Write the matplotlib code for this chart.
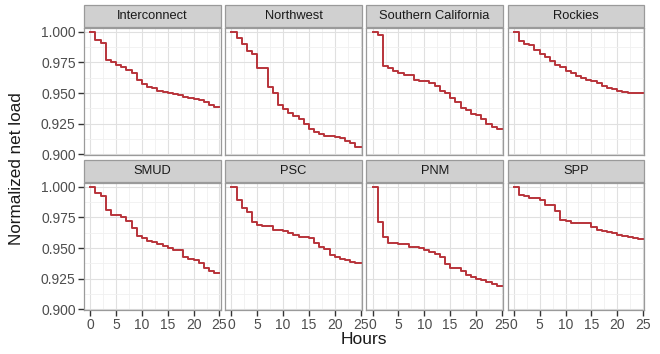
import numpy as np
import matplotlib
matplotlib.use("Agg")
import matplotlib.pyplot as plt
from matplotlib.patches import Rectangle

plt.rcParams['font.family'] = ['Liberation Sans', 'DejaVu Sans']

# hora de inicio de cada escalón (0..24), cada uno dura 1 hora
horas = list(range(25))

regiones = ['Interconnect', 'Northwest', 'Southern California', 'Rockies',
            'SMUD', 'PSC', 'PNM', 'SPP']

interconnect = [1.000, 0.993, 0.991, 0.977, 0.975, 0.973, 0.971, 0.969, 0.966, 0.961,
                0.957, 0.955, 0.954, 0.952, 0.951, 0.950, 0.949, 0.948, 0.947, 0.946,
                0.945, 0.944, 0.943, 0.940, 0.939]
northwest = [1.000, 0.995, 0.990, 0.984, 0.982, 0.970, 0.970, 0.955, 0.950, 0.940,
             0.937, 0.934, 0.931, 0.929, 0.925, 0.921, 0.918, 0.917, 0.915, 0.915,
             0.914, 0.913, 0.911, 0.909, 0.906]
southern_california = [1.000, 0.997, 0.972, 0.970, 0.968, 0.966, 0.965, 0.965, 0.961, 0.960,
                       0.960, 0.958, 0.956, 0.952, 0.950, 0.946, 0.943, 0.938, 0.936, 0.933,
                       0.932, 0.929, 0.925, 0.922, 0.921]
rockies = [1.000, 0.992, 0.990, 0.989, 0.985, 0.982, 0.979, 0.976, 0.973, 0.971,
           0.968, 0.966, 0.964, 0.962, 0.961, 0.960, 0.958, 0.956, 0.954, 0.953,
           0.952, 0.951, 0.950, 0.950, 0.950]
smud = [1.000, 0.995, 0.992, 0.981, 0.977, 0.977, 0.975, 0.972, 0.966, 0.960,
        0.958, 0.956, 0.955, 0.953, 0.952, 0.950, 0.948, 0.948, 0.943, 0.941,
        0.940, 0.938, 0.934, 0.931, 0.930]
psc = [1.000, 0.989, 0.983, 0.979, 0.971, 0.969, 0.968, 0.968, 0.965, 0.965,
       0.964, 0.962, 0.961, 0.959, 0.959, 0.958, 0.954, 0.951, 0.949, 0.944,
       0.943, 0.941, 0.940, 0.939, 0.938]
pnm = [1.000, 0.971, 0.959, 0.954, 0.954, 0.953, 0.953, 0.951, 0.951, 0.950,
       0.948, 0.947, 0.945, 0.943, 0.937, 0.934, 0.934, 0.931, 0.928, 0.926,
       0.925, 0.924, 0.922, 0.921, 0.919]
spp = [1.000, 0.993, 0.992, 0.991, 0.991, 0.989, 0.985, 0.985, 0.980, 0.973,
       0.972, 0.970, 0.970, 0.970, 0.970, 0.967, 0.965, 0.964, 0.963, 0.962,
       0.961, 0.960, 0.959, 0.958, 0.957]

series = [interconnect, northwest, southern_california, rockies, smud, psc, pnm, spp]

x_ticks = [0, 5, 10, 15, 20, 25]
y_ticks = [0.900, 0.925, 0.950, 0.975, 1.000]

W, H = 660, 354
fig = plt.figure(figsize=(6.6, 3.54), dpi=100)

# posiciones de los paneles en pixeles
izq, ancho, sep = 84, 136.5, 4.7
filas = [(28, 155), (183, 310)]  # (arriba, abajo) del área de datos
alto_tira = 22

color_linea = '#B8333A'
color_borde = '#9A9A9A'
color_txt = '#4D4D4D'

for i, (nombre, vals) in enumerate(zip(regiones, series)):
    fila, col = divmod(i, 4)
    top, bot = filas[fila]
    x0 = izq + col * (ancho + sep)
    ax = fig.add_axes([x0 / W, 1 - bot / H, ancho / W, (bot - top) / H])

    xs = horas + [horas[-1] + 1]
    ys = vals + [vals[-1]]
    ax.step(xs, ys, where='post', color=color_linea, lw=1.4)

    ax.set_xlim(-1.2, 25.2)
    ax.set_ylim(0.8995, 1.003)
    ax.set_xticks(x_ticks)
    ax.set_yticks(y_ticks)
    ax.set_xticks([2.5, 7.5, 12.5, 17.5, 22.5], minor=True)
    ax.set_yticks([0.9125, 0.9375, 0.9625, 0.9875], minor=True)
    ax.grid(True, which='major', color='#E0E0E0', lw=0.8)
    ax.grid(True, which='minor', color='#F0F0F0', lw=0.6)
    ax.set_axisbelow(True)
    for s in ax.spines.values():
        s.set_color(color_borde)
        s.set_linewidth(0.9)

    ax.tick_params(which='minor', length=0)
    ax.tick_params(which='major', length=4, width=1, color='#333333',
                   labelcolor=color_txt, labelsize=10, pad=2)
    if fila == 1:
        ax.set_xticklabels([str(t) for t in x_ticks])
    else:
        ax.tick_params(axis='x', length=0, labelbottom=False)
    if col == 0:
        ax.set_yticklabels([f'{t:.3f}' for t in y_ticks])
    else:
        ax.tick_params(axis='y', length=0, labelleft=False)

    # tira del título (estilo facet)
    fig.patches.append(Rectangle((x0 / W, 1 - (top - 1) / H), ancho / W, alto_tira / H,
                                 transform=fig.transFigure, facecolor='#D0D0D0',
                                 edgecolor=color_borde, lw=0.9))
    fig.text((x0 + ancho / 2) / W, 1 - (top - 1 - alto_tira / 2) / H, nombre,
             ha='center', va='center', fontsize=9.3, color='#1A1A1A')

fig.text((izq + 2 * ancho + 1.5 * sep) / W, 1 - 340 / H, 'Hours',
         ha='center', va='center', fontsize=12.5, color='#1A1A1A')
fig.text(17 / W, 1 - 169 / H, 'Normalized net load', rotation=90,
         ha='center', va='center', fontsize=12.3, color='#1A1A1A')

fig.savefig('out.png', dpi=100, facecolor='white')
